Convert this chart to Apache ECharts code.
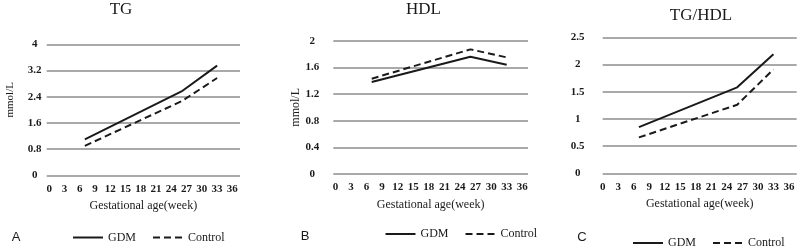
<!DOCTYPE html>
<html>
<head>
<meta charset="utf-8">
<script src="https://cdn.jsdelivr.net/npm/echarts@6/dist/echarts.min.js"></script>
<style>
  html, body { margin: 0; padding: 0; background: #fff; }
  #main { width: 800px; height: 249px; }
</style>
</head>
<body>
<div id="main"></div>
<script>
// weeks of gestation where the lipids were measured
const weeks = [7, 26, 33];
const tgGDM = [1.10, 2.56, 3.35];
const tgControl = [0.90, 2.26, 2.97];
const hdlGDM = [1.38, 1.76, 1.64];
const hdlControl = [1.43, 1.87, 1.75];
const ratioGDM = [0.85, 1.58, 2.19];
const ratioControl = [0.66, 1.26, 1.91];
const weekTicks = [0, 3, 6, 9, 12, 15, 18, 21, 24, 27, 30, 33, 36];
const seriesNames = ["GDM", "Control"];

const serif = "'Liberation Serif', 'Times New Roman', serif";
const ink = "#1a1a1a";

function pairs(ys) {
  return weeks.map((w, i) => [w, ys[i]]);
}

function xAxis(idx, min, max) {
  return {
    type: "value",
    gridIndex: idx,
    min: min,
    max: max,
    axisLine: { show: false },
    axisTick: { show: false },
    splitLine: { show: false },
    axisLabel: {
      customValues: weekTicks,
      color: ink,
      fontFamily: serif,
      fontSize: 11,
      fontWeight: "bold",
      margin: 8,
    },
    name: "Gestational age(week)",
    nameLocation: "middle",
    nameGap: 25,
    nameTextStyle: { color: ink, fontFamily: serif, fontSize: 12 },
  };
}

function yAxis(idx, max, interval, margin, name, shift, nameSize) {
  return {
    type: "value",
    gridIndex: idx,
    min: 0,
    max: max,
    interval: interval,
    axisLine: { show: false },
    axisTick: { show: false },
    splitLine: { lineStyle: { color: "#8c8c8c", width: 1.5 } },
    axisLabel: {
      color: ink,
      fontFamily: serif,
      fontSize: 11,
      fontWeight: "bold",
      align: "center",
      margin: margin,
    },
    name: name,
    nameLocation: "middle",
    nameGap: 31,
    nameTextStyle: {
      color: ink,
      fontFamily: serif,
      fontSize: nameSize,
      padding: [0, 0, 0, shift],
    },
  };
}

function line(name, idx, ys) {
  return {
    name: name,
    type: "line",
    xAxisIndex: idx,
    yAxisIndex: idx,
    data: pairs(ys),
    symbol: "none",
    silent: true,
    lineStyle: {
      color: ink,
      width: 2,
      type: name === "Control" ? [7, 4] : "solid",
    },
    itemStyle: { color: ink, opacity: 0 },
  };
}

function legend(left, top) {
  return {
    data: seriesNames,
    left: left,
    top: top,
    padding: 0,
    itemWidth: 30,
    itemHeight: 12,
    itemGap: 16,
    selectedMode: false,
    itemStyle: { opacity: 0 },
    textStyle: { color: ink, fontFamily: serif, fontSize: 12 },
  };
}

function label(text, x, y, font) {
  return {
    type: "text",
    x: x,
    y: y,
    style: {
      text: text,
      font: font,
      fill: ink,
      align: "center",
      textAlign: "center",
      verticalAlign: "middle",
      textVerticalAlign: "middle",
    },
  };
}

const chart = echarts.init(document.getElementById("main"));
chart.setOption({
  animation: false,
  backgroundColor: "#fff",
  grid: [
    { left: 46.7, top: 44.3, width: 193.3, height: 131 },
    { left: 333.3, top: 40.7, width: 194.7, height: 133.3 },
    { left: 602.7, top: 37.3, width: 194, height: 136 },
  ],
  xAxis: [xAxis(0, -0.5, 37.5), xAxis(1, -0.4, 37.1), xAxis(2, 0, 37.5)],
  yAxis: [
    yAxis(0, 4, 0.8, 12, "mmol/L", 20, 11),
    yAxis(1, 2, 0.4, 21, "mmol/L", 0, 12),
    yAxis(2, 2.5, 0.5, 25, "", 0, 11),
  ],
  legend: [legend(72, 231.5), legend(384.5, 228), legend(632, 237)],
  series: [
    line("GDM", 0, tgGDM),
    line("Control", 0, tgControl),
    line("GDM", 1, hdlGDM),
    line("Control", 1, hdlControl),
    line("GDM", 2, ratioGDM),
    line("Control", 2, ratioControl),
  ],
  graphic: [
    label("TG", 121, 10, "17px " + serif),
    label("HDL", 423.5, 10, "17px " + serif),
    label("TG/HDL", 701, 15.5, "17px " + serif),
    label("A", 16, 237, "13px 'Liberation Sans', Arial, sans-serif"),
    label("B", 305, 236, "13px 'Liberation Sans', Arial, sans-serif"),
    label("C", 582, 237, "13px 'Liberation Sans', Arial, sans-serif"),
  ],
});
</script>
</body>
</html>
